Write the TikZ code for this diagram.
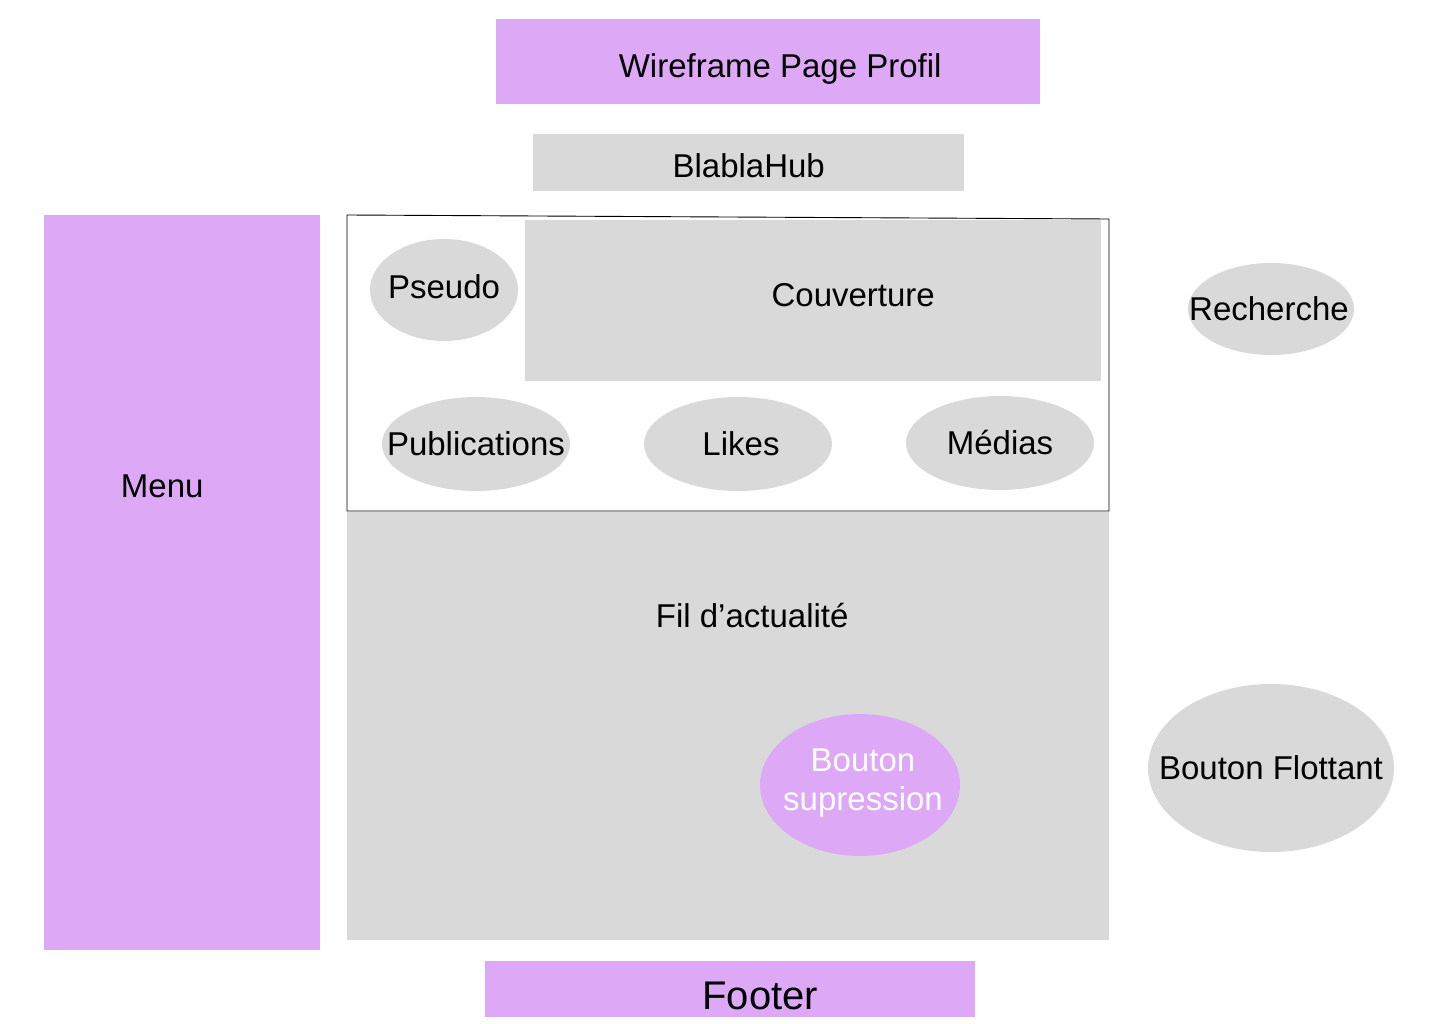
\documentclass[tikz,border=0pt]{standalone}
\usepackage{fontspec}
\setmainfont{Liberation Sans}
\usetikzlibrary{shapes.geometric}
\definecolor{mauve}{HTML}{DDA8F5}
\definecolor{gris}{HTML}{D9D9D9}
\tikzset{
  boite/.style={fill=#1, draw=none, inner sep=0pt, anchor=north west},
  bulle/.style={ellipse, fill=#1, draw=none, inner sep=0pt},
  txt/.style={font=\fontsize{33}{39}\selectfont, align=center, inner sep=0pt}
}
\begin{document}
\begin{tikzpicture}[x=1pt, y=-1pt]
  \useasboundingbox (0,0) rectangle (1440,1024);

  % Titre et en-tete
  \node[boite=mauve, minimum width=544pt, minimum height=85pt,
        label={[txt, xshift=12pt, yshift=-7pt]center:Wireframe Page Profil}] (titre) at (496,19) {};
  \node[boite=gris, minimum width=431pt, minimum height=57pt,
        label={[txt, yshift=-3.5pt]center:BlablaHub}] (hub) at (533,134) {};

  % Menu lateral
  \node[boite=mauve, minimum width=276pt, minimum height=735pt,
        label={[txt, xshift=-20pt, yshift=96.5pt]center:Menu}] (menu) at (44,215) {};

  % Cadre du profil
  \draw[line width=0.9pt] (347,215) -- (1109,219) -- (1109,511) -- (347,511) -- cycle;
  \node[boite=gris, minimum width=576pt, minimum height=161pt,
        label={[txt, xshift=40pt, yshift=5.5pt]center:Couverture}] (couv) at (525,220) {};
  \node[bulle=gris, minimum width=148pt, minimum height=102pt,
        label={[txt, yshift=3pt]center:Pseudo}] (pseudo) at (444,290) {};

  % Onglets
  \node[bulle=gris, minimum width=188pt, minimum height=94pt,
        label={[txt]center:Publications}] (publi) at (476,444) {};
  \node[bulle=gris, minimum width=188pt, minimum height=94pt,
        label={[txt, xshift=3pt]center:Likes}] (likes) at (738,444) {};
  \node[bulle=gris, minimum width=188pt, minimum height=94pt,
        label={[txt]center:Médias}] (medias) at (1000,443) {};

  % Fil d'actualite
  \node[boite=gris, minimum width=762pt, minimum height=428pt,
        label={[txt, xshift=24pt, yshift=111pt]center:Fil d’actualité}] (fil) at (347,512) {};
  \node[bulle=mauve, minimum width=200pt, minimum height=142pt,
        label={[txt, text=white, xshift=3pt, yshift=2pt]center:Bouton\\supression}] (suppr) at (860,785) {};

  % Colonne droite
  \node[bulle=gris, minimum width=166pt, minimum height=92pt,
        label={[txt, xshift=-2pt]center:Recherche}] (recherche) at (1271,309) {};
  \node[bulle=gris, minimum width=246pt, minimum height=168pt,
        label={[txt]center:Bouton Flottant}] (flottant) at (1271,768) {};

  % Pied de page
  \node[boite=mauve, minimum width=490pt, minimum height=56pt,
        label={[txt, font=\fontsize{40}{48}\selectfont, xshift=30pt, yshift=-7pt]center:Footer}] (footer) at (485,961) {};
\end{tikzpicture}
\end{document}
